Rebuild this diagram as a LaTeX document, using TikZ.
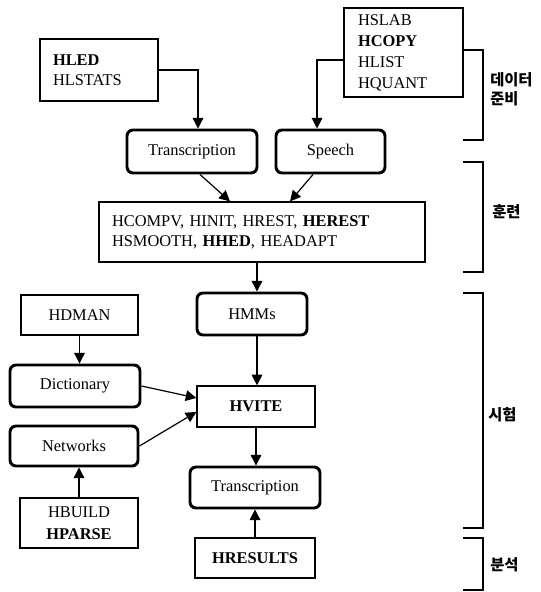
\documentclass[tikz,border=0pt]{standalone}
\usepackage{fontspec}
\setmainfont{Liberation Serif}
\newfontfamily\krfont{Noto Sans CJK KR}
\usetikzlibrary{arrows.meta}

\begin{document}
\begin{tikzpicture}[x=0.75pt,y=-0.75pt,
  every node/.style={font=\fontsize{12.3}{15}\selectfont, inner sep=0pt},
  tool/.style={draw, line width=0.9pt},
  data/.style={draw, rounded corners=4.5pt, line width=2.2pt},
  flow/.style={-{Triangle[length=8pt,width=8pt]}, line width=0.9pt},
  bracket/.style={line width=1.1pt},
  phase/.style={font=\krfont\bfseries\fontsize{11.5}{14}\selectfont, anchor=west, align=left}
]
\useasboundingbox (0,0) rectangle (540,592);

% data preparation
\node[tool, minimum width=88.5pt, minimum height=46.5pt, text width=69pt, align=left]
  (hled) at (99,70) {\textbf{HLED}\\HLSTATS};
\node[tool, minimum width=89.25pt, minimum height=66.75pt, text width=68.25pt, align=left,
  font=\fontsize{12.3}{15.75}\selectfont]
  (hslab) at (403.5,52.5) {HSLAB\\\textbf{HCOPY}\\HLIST\\HQUANT};
\node[data, minimum width=97.5pt, minimum height=32.25pt] (trans1) at (192,151.5) {Transcription};
\node[data, minimum width=81.75pt, minimum height=32.25pt] (speech) at (330.5,151.5) {Speech};

% training
\node[tool, minimum width=244.5pt, minimum height=45pt, text width=225pt, align=left]
  (train) at (262,232) {HCOMPV, HINIT, HREST, \textbf{HEREST}\\HSMOOTH, \textbf{HHED}, HEADAPT};

% testing
\node[data, minimum width=82.5pt, minimum height=31.5pt] (hmms) at (252,314) {HMMs};
\node[tool, minimum width=87.75pt, minimum height=30pt] (hdman) at (79.5,315) {HDMAN};
\node[data, minimum width=97.5pt, minimum height=31.5pt] (dict) at (75,386) {Dictionary};
\node[data, minimum width=96pt, minimum height=30pt] (netw) at (74,446) {Networks};
\node[tool, minimum width=88.5pt, minimum height=37.5pt, align=center,
  font=\fontsize{12.3}{16.5}\selectfont]
  (hbuild) at (79,523) {HBUILD\\\textbf{HPARSE}};
\node[tool, minimum width=88.5pt, minimum height=30.75pt] (hvite) at (256,406.5) {\textbf{HVITE}};
\node[data, minimum width=97.5pt, minimum height=30.75pt] (trans2) at (255,487.5) {Transcription};

% analysis
\node[tool, minimum width=90pt, minimum height=30pt] (hres) at (255,558) {\textbf{HRESULTS}};

% connectors
\draw[flow] (hled.east) -| ([xshift=4.5pt]trans1.north);
\draw[flow] ([yshift=-5.6pt]hslab.west) -| ([xshift=-10.1pt]speech.north);
\draw[flow] ([xshift=6pt]trans1.south) -- ([xshift=-24pt]train.north);
\draw[flow] ([xshift=-13.1pt]speech.south) -- ([xshift=21pt]train.north);
\draw[flow] ([xshift=3.75pt]hmms.north |- train.south) -- ([xshift=3.75pt]hmms.north);
\draw[flow] ([xshift=3.75pt]hmms.south) -- ([xshift=3.75pt]hmms.south |- hvite.north);
\draw[flow] (hdman.south) -- (hdman.south |- dict.north);
\draw[flow] (hbuild.north) -- (hbuild.north |- netw.south);
\draw[flow] (dict.east) -- ([yshift=6.4pt]hvite.west);
\draw[flow] (netw.east) -- ([yshift=-4.1pt]hvite.west);
\draw[flow] (hvite.south) -- (hvite.south |- trans2.north);
\draw[flow] (hres.north) -- (hres.north |- trans2.south);

% phase brackets
\draw[bracket] (463,50) -- (483,50) -- (483,140) -- (463,140);
\draw[bracket] (463,162) -- (483,162) -- (483,272) -- (463,272);
\draw[bracket] (463,293) -- (483,293) -- (483,528) -- (463,528);
\draw[bracket] (463,538) -- (483,538) -- (483,590) -- (463,590);

\node[phase] (lprep) at (490,89) {데이터\\준비};
\node[phase] (ltrain) at (492,212) {훈련};
\node[phase] (ltest) at (488,415) {시험};
\node[phase] (lanal) at (490,565) {분석};
\end{tikzpicture}
\end{document}
